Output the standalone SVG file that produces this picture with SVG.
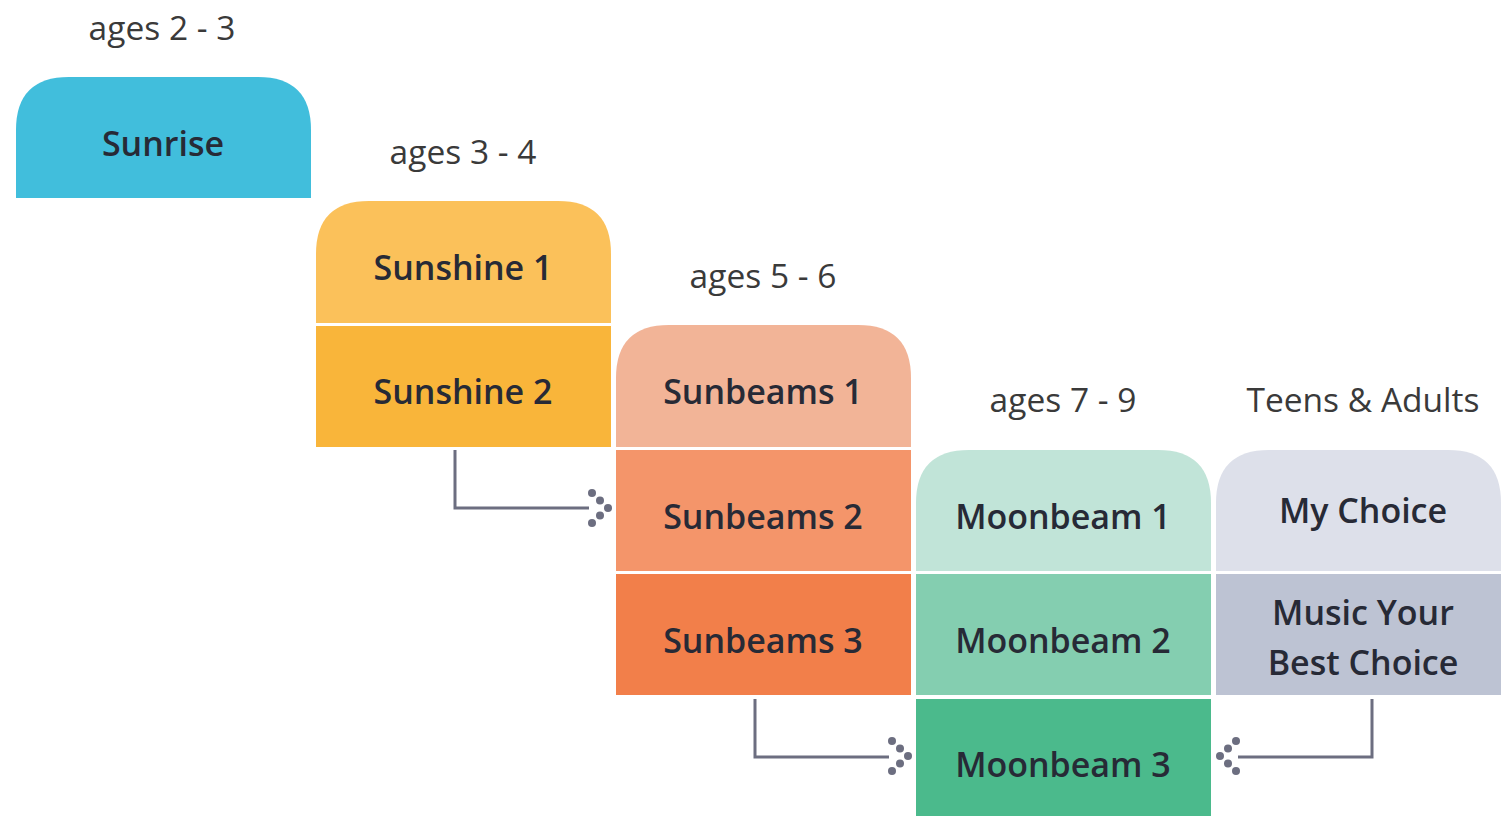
<svg xmlns="http://www.w3.org/2000/svg" width="1501" height="816" viewBox="0 0 1501 816">
<style>
.lbl{font-family:"Open Sans","Noto Sans",sans-serif;font-weight:600;font-size:34px;fill:#272a36;text-anchor:middle}
.age{font-family:"Open Sans","Noto Sans",sans-serif;font-weight:400;font-size:33.5px;fill:#3a3a3a;text-anchor:middle}
.con{fill:none;stroke:#6c6e80;stroke-width:3}
</style>
<defs>
<g id="chev" fill="#6c6e80">
<circle cx="0" cy="-15" r="4"/><circle cx="8" cy="-7.5" r="4"/><circle cx="16" cy="0" r="4"/><circle cx="8" cy="7.5" r="4"/><circle cx="0" cy="15" r="4"/>
</g>
</defs>
<rect width="1501" height="816" fill="#fff"/>
<text class="age" x="162" y="40">ages 2 - 3</text>
<text class="age" x="463" y="164">ages 3 - 4</text>
<text class="age" x="763" y="288">ages 5 - 6</text>
<text class="age" x="1063" y="412">ages 7 - 9</text>
<text class="age" x="1363" y="412">Teens &amp; Adults</text>

<g id="sunrise"><path d="M16,198 V130 Q16,77 69,77 H258 Q311,77 311,130 V198 Z" fill="#41bedc"/><text class="lbl" x="163" y="156">Sunrise</text></g>
<g id="sunshine1"><path d="M316,323 V254 Q316,201 369,201 H558 Q611,201 611,254 V323 Z" fill="#fbc15a"/><text class="lbl" x="463" y="280">Sunshine 1</text></g>
<g id="sunshine2"><rect x="316" y="326" width="295" height="121" fill="#f9b53a"/><text class="lbl" x="463" y="404">Sunshine 2</text></g>
<g id="sunbeams1"><path d="M616,447 V378 Q616,325 669,325 H858 Q911,325 911,378 V447 Z" fill="#f2b497"/><text class="lbl" x="763" y="404">Sunbeams 1</text></g>
<g id="sunbeams2"><rect x="616" y="450" width="295" height="121" fill="#f4956a"/><text class="lbl" x="763" y="529">Sunbeams 2</text></g>
<g id="sunbeams3"><rect x="616" y="574" width="295" height="121" fill="#f27f4a"/><text class="lbl" x="763" y="653">Sunbeams 3</text></g>
<g id="moonbeam1"><path d="M916,571 V503 Q916,450 969,450 H1158 Q1211,450 1211,503 V571 Z" fill="#c1e4d8"/><text class="lbl" x="1063" y="529">Moonbeam 1</text></g>
<g id="moonbeam2"><rect x="916" y="574" width="295" height="121" fill="#84ceb0"/><text class="lbl" x="1063" y="653">Moonbeam 2</text></g>
<g id="moonbeam3"><rect x="916" y="699" width="295" height="117" fill="#4bba8c"/><text class="lbl" x="1063" y="777">Moonbeam 3</text></g>
<g id="mychoice"><path d="M1216,571 V503 Q1216,450 1269,450 H1448 Q1501,450 1501,503 V571 Z" fill="#dde0ea"/><text class="lbl" x="1363" y="523">My Choice</text></g>
<g id="musicyour"><rect x="1216" y="574" width="285" height="121" fill="#bdc3d3"/><text class="lbl" x="1363" y="625">Music Your</text><text class="lbl" x="1363" y="675">Best Choice</text></g>

<g id="connectors">
<path class="con" d="M455,450 V508 H589"/><use href="#chev" x="592" y="508"/>
<path class="con" d="M755,699 V757 H889"/><use href="#chev" x="892" y="756"/>
<path class="con" d="M1372,699 V757 H1238"/><use href="#chev" transform="translate(1236,756) scale(-1,1)"/>
</g>
</svg>
